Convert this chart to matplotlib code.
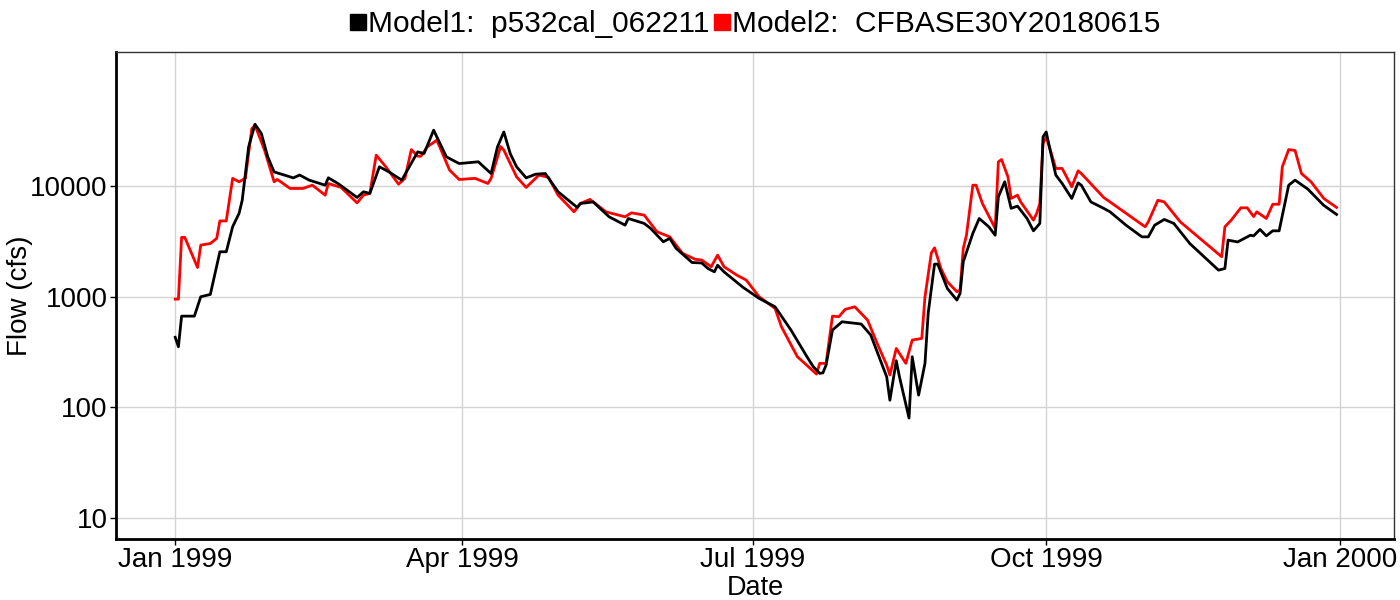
import numpy as np
import matplotlib
matplotlib.use('Agg')
import matplotlib.pyplot as plt
import matplotlib.dates as mdates
from matplotlib.lines import Line2D

plt.rcParams['font.family'] = ['Liberation Sans', 'DejaVu Sans']

start = np.datetime64('1999-01-01')

# Model1 (black): day of year offset, flow in cfs
days1 = [0, 1, 2, 6, 8, 11, 14, 16, 18, 20, 21, 23, 25, 27, 29, 31, 37, 39, 42, 47,
         48, 51, 57, 59, 61, 64, 67, 71, 76, 78, 81, 85, 89, 95, 99, 101, 103, 105,
         107, 110, 113, 116, 120, 126, 127, 131, 136, 141, 142, 147, 149, 153, 155,
         157, 162, 165, 167, 169, 170, 172, 178, 183, 188, 193, 198, 200, 202, 203,
         204, 206, 209, 215, 218, 221, 223, 224, 226, 227, 230, 231, 233, 235, 236,
         238, 239, 242, 245, 246, 247, 250, 252, 255, 257, 258, 260, 262, 264, 267,
         269, 271, 272, 273, 274, 276, 278, 279, 281, 283, 284, 287, 291, 293, 298,
         303, 305, 307, 310, 313, 318, 327, 329, 330, 333, 337, 338, 340, 342, 344,
         346, 349, 351, 355, 360, 364]
flow1 = [430, 353, 668, 668, 1000, 1050, 2550, 2550, 4300, 5660, 7460, 22600, 36300,
         29900, 18400, 13450, 11880, 12600, 11330, 10200, 11900, 10570, 7900, 8890,
         8600, 14960, 13450, 11330, 20400, 19730, 32060, 18400, 16000, 16600, 13000,
         22600, 30900, 19700, 14960, 11880, 12830, 13000, 8890, 6420, 6970, 7200,
         5280, 4440, 5100, 4600, 4150, 3140, 3370, 2735, 2040, 2020, 1800, 1680, 1930,
         1680, 1215, 967, 812, 500, 287, 233, 203, 205, 241, 500, 594, 567, 451, 268,
         189, 116, 264, 189, 80, 287, 129, 250, 708, 1973, 1973, 1190, 933, 1073, 2070,
         3740, 5100, 4290, 3600, 8010, 10950, 6300, 6600, 5100, 3945, 4600, 27900,
         30900, 22600, 12600, 10570, 9530, 7740, 10700, 10200, 7200, 6300, 5860, 4440,
         3480, 3480, 4440, 5000, 4600, 3030, 1740, 1800, 3250, 3130, 3600, 3550, 4060,
         3550, 3945, 3945, 10200, 11330, 9400, 6700, 5550]

# Model2 (red)
days2 = [0, 1, 2, 3, 7, 8, 11, 13, 14, 16, 18, 20, 22, 24, 25, 28, 31, 32, 36, 40,
         43, 47, 48, 52, 57, 59, 61, 63, 66, 70, 72, 74, 76, 77, 79, 82, 86, 89, 94,
         98, 99, 102, 103, 107, 110, 114, 117, 120, 125, 127, 130, 135, 141, 143, 147,
         151, 155, 159, 163, 165, 168, 170, 172, 176, 179, 183, 188, 190, 195, 201,
         202, 204, 206, 208, 210, 213, 217, 220, 223, 224, 226, 229, 231, 234, 235,
         237, 238, 240, 242, 245, 246, 247, 248, 250, 251, 253, 257, 258, 259, 261,
         262, 264, 265, 269, 270, 271, 272, 273, 274, 276, 278, 281, 283, 284, 291,
         293, 304, 305, 308, 310, 315, 328, 329, 331, 334, 336, 338, 339, 342, 344,
         346, 347, 349, 351, 353, 356, 360, 364]
flow2 = [952, 952, 3440, 3440, 1840, 2930, 3030, 3370, 4850, 4850, 11760, 10950,
         11760, 33100, 35500, 21150, 10950, 11500, 9530, 9530, 10200, 8290, 10570,
         9730, 7060, 8290, 8600, 19060, 14960, 10420, 11760, 21400, 18640, 18640,
         22650, 26050, 13950, 11480, 11760, 10570, 11760, 22800, 21150, 12130, 9730,
         12600, 12000, 8290, 5860, 6970, 7590, 5860, 5280, 5740, 5470, 3870, 3480,
         2470, 2180, 2150, 1870, 2380, 1870, 1570, 1413, 1000, 785, 536, 287, 200, 250,
         250, 668, 660, 769, 812, 615, 379, 241, 196, 341, 250, 406, 420, 1000, 2496,
         2770, 1800, 1367, 1110, 1150, 2735, 3600, 10200, 10200, 6970, 4150, 16600,
         17400, 12130, 7740, 8290, 7200, 4930, 5660, 6970, 24300, 27900, 22600, 14450,
         14450, 9860, 13760, 13000, 7900, 7200, 4290, 4760, 7460, 7200, 4760, 2300,
         4290, 4930, 6370, 6370, 5310, 5860, 5100, 6860, 6860, 14960, 21400, 21000,
         13000, 10950, 7740, 6420]

names = ['Model1:  p532cal_062211', 'Model2:  CFBASE30Y20180615']
colors = ['black', 'red']
yticks = [10, 100, 1000, 10000]
xticks = ['1999-01-01', '1999-04-01', '1999-07-01', '1999-10-01', '2000-01-01']

dates1 = start + np.array(days1).astype('timedelta64[D]')
dates2 = start + np.array(days2).astype('timedelta64[D]')

fig = plt.figure(figsize=(14, 6), dpi=100)
ax = fig.add_axes([0.083, 0.1017, 0.9127, 0.8113])

ax.plot(dates1, flow1, color=colors[0], lw=2.0, zorder=3)
ax.plot(dates2, flow2, color=colors[1], lw=2.0, zorder=2)

ax.set_yscale('log')
ax.set_ylim(6.46, 162500)
ax.set_yticks(yticks)
ax.set_yticklabels([str(v) for v in yticks])
ax.yaxis.set_minor_locator(matplotlib.ticker.NullLocator())

ax.set_xlim(start - np.timedelta64(18, 'D') - np.timedelta64(12, 'h'),
            np.datetime64('2000-01-18'))
xt = [np.datetime64(d) for d in xticks]
ax.set_xticks(xt)
ax.xaxis.set_major_formatter(mdates.DateFormatter('%b %Y'))

ax.grid(True, color='#d3d3d3', lw=1)
ax.set_axisbelow(True)

for side in ['top', 'right']:
    ax.spines[side].set_color('#333333')
    ax.spines[side].set_linewidth(1.0)
for side in ['left', 'bottom']:
    ax.spines[side].set_color('black')
    ax.spines[side].set_linewidth(2.0)

ax.tick_params(axis='both', labelsize=20, length=4, width=1, color='black', pad=2)
ax.set_xlabel('Date', fontsize=19.5, labelpad=1)
ax.set_ylabel('Flow (cfs)', fontsize=20, labelpad=-2)

handles = [Line2D([], [], marker='s', color=c, linestyle='none', markersize=12) for c in colors]
fig.legend(handles, names, loc='center', bbox_to_anchor=(0.539, 0.96), ncol=2,
           frameon=False, fontsize=21.5, handlelength=0.6, handletextpad=0.05,
           columnspacing=0.1, borderpad=0)

fig.savefig('out.png', dpi=100)
